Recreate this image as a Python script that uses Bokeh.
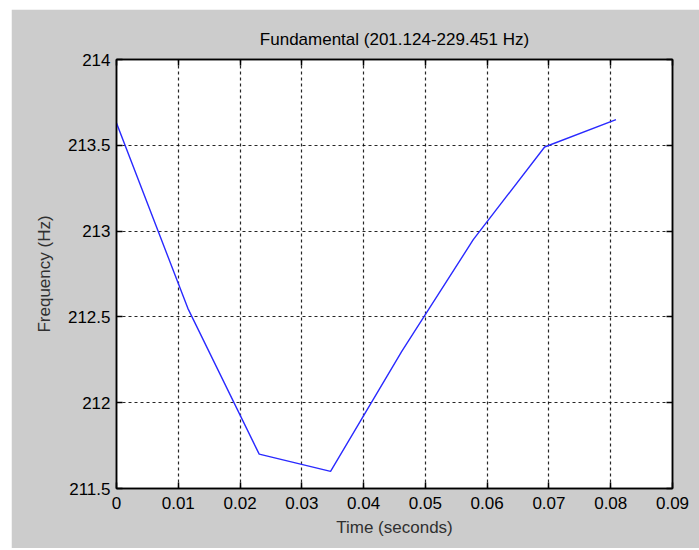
from bokeh.plotting import figure
from bokeh.models import Range1d, FixedTicker, CustomJSTickFormatter, LinearAxis
from bokeh.embed import file_html
from bokeh.resources import INLINE

# Data
time_s = [0.0, 0.01155, 0.0231, 0.03465, 0.0462, 0.05775, 0.0693, 0.08085]
freq_hz = [213.63, 212.55, 211.70, 211.60, 212.30, 212.95, 213.49, 213.65]
x_ticks = [0, 0.01, 0.02, 0.03, 0.04, 0.05, 0.06, 0.07, 0.08, 0.09]
y_ticks = [211.5, 212, 212.5, 213, 213.5, 214]
title_text = "Fundamental (201.124-229.451 Hz)"
x_label = "Time (seconds)"
y_label = "Frequency (Hz)"

FONT = "Liberation Sans"
FS = "17px"
GRAY = "#cccccc"

p = figure(frame_width=556, frame_height=429,
           x_range=Range1d(0, 0.09), y_range=Range1d(211.5, 214),
           output_backend="svg", toolbar_location=None,
           min_border_left=105, min_border_right=27,
           min_border_top=50, min_border_bottom=60,
           background_fill_color="white", border_fill_color=GRAY,
           title=title_text)
p.margin = (9, 0, 2, 11)

p.title.align = "center"
p.title.text_font = FONT
p.title.text_font_size = FS
p.title.text_font_style = "normal"
p.title.text_color = "black"
p.title.standoff = 22

fmt = CustomJSTickFormatter(code="return Number(tick.toFixed(4)).toString();")
blank = CustomJSTickFormatter(code="return '';")

def style_axis(ax, ticks, formatter, show):
    ax.ticker = FixedTicker(ticks=ticks)
    ax.formatter = formatter
    ax.major_tick_in = 6
    ax.major_tick_out = 0
    ax.minor_tick_line_color = None
    ax.axis_line_color = "black"
    ax.axis_line_width = 1.5
    ax.major_tick_line_color = "black"
    ax.major_tick_line_width = 1.5
    ax.major_label_text_font = FONT
    ax.major_label_text_font_size = FS if show else "1px"
    ax.major_label_text_color = "black"
    ax.major_label_standoff = 5 if show else 0

style_axis(p.xaxis[0], x_ticks, fmt, True)
style_axis(p.yaxis[0], y_ticks, fmt, True)
p.xaxis[0].major_label_standoff = 8
p.yaxis[0].major_label_standoff = 6
p.xaxis[0].axis_label = x_label
p.yaxis[0].axis_label = y_label
for ax in (p.xaxis[0], p.yaxis[0]):
    ax.axis_label_text_font = FONT
    ax.axis_label_text_font_size = FS
    ax.axis_label_text_font_style = "normal"
    ax.axis_label_text_color = "#303030"
p.xaxis[0].axis_label_standoff = 6
p.yaxis[0].axis_label_standoff = 11

top_ax = LinearAxis()
right_ax = LinearAxis()
style_axis(top_ax, x_ticks, blank, False)
style_axis(right_ax, y_ticks, blank, False)
p.add_layout(top_ax, "above")
p.add_layout(right_ax, "right")

for g, ticks in ((p.xgrid[0], x_ticks), (p.ygrid[0], y_ticks)):
    g.ticker = FixedTicker(ticks=ticks)
    g.grid_line_color = "black"
    g.grid_line_alpha = 0.85
    g.grid_line_dash = "3 3"
    g.grid_line_width = 1.2

p.outline_line_color = "black"
p.outline_line_width = 1.5

p.line(time_s, freq_hz, line_color="#2a2aff", line_width=1.4)

open("out.html", "w").write(file_html(p, INLINE))
